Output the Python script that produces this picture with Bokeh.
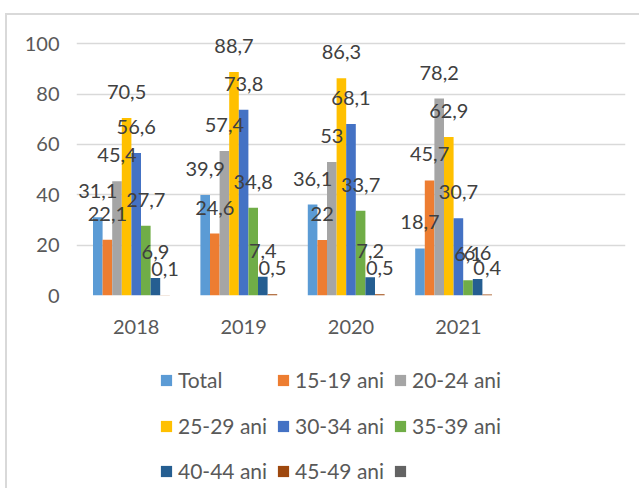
from bokeh.plotting import figure
from bokeh.layouts import column
from bokeh.models import ColumnDataSource, FactorRange, Legend, LegendItem, Range1d, FixedTicker, LabelSet
from bokeh.transform import dodge
from bokeh.core.properties import value
from bokeh.embed import file_html
from bokeh.resources import INLINE

# ---- data ----
years = ["2018", "2019", "2020", "2021"]
categories = years + [" "]          # empty 5th category slot as in the original
total = [31.1, 39.9, 36.1, 18.7]
a15_19 = [22.1, 24.6, 22.0, 45.7]
a20_24 = [45.4, 57.4, 53.0, 78.2]
a25_29 = [70.5, 88.7, 86.3, 62.9]
a30_34 = [56.6, 73.8, 68.1, 30.7]
a35_39 = [27.7, 34.8, 33.7, 6.1]
a40_44 = [6.9, 7.4, 7.2, 6.6]
a45_49 = [0.1, 0.5, 0.5, 0.4]
blank = []                           # unnamed empty series
series_names = ["Total", "15-19 ani", "20-24 ani", "25-29 ani", "30-34 ani",
                "35-39 ani", "40-44 ani", "45-49 ani", " "]
series_values = [total, a15_19, a20_24, a25_29, a30_34, a35_39, a40_44, a45_49, blank]
colors = ["#5B9BD5", "#ED7D31", "#A5A5A5", "#FFC000", "#4472C4",
          "#70AD47", "#255E91", "#9E480E", "#636363"]
y_ticks = [0, 20, 40, 60, 80, 100]

FONT = "Lato"
TXT = "#595959"
BORDER = "2px solid #d9d9d9"
NAN = float("nan")

p = figure(x_range=FactorRange(factors=categories, range_padding=0.0559,
                               range_padding_units="absolute"),
           y_range=Range1d(0, 108),
           width=634, height=335, output_backend="svg", toolbar_location=None,
           min_border_left=69, min_border_right=16, min_border_top=8,
           min_border_bottom=55)
p.styles = {"border-top": BORDER, "border-left": BORDER,
            "margin-top": "13px", "margin-left": "5px"}
p.outline_line_color = None

# axes
p.yaxis.ticker = FixedTicker(ticks=y_ticks)
p.ygrid.ticker = FixedTicker(ticks=y_ticks)
p.ygrid.grid_line_color = "#d9d9d9"
p.ygrid.grid_line_width = 1.6
p.xgrid.grid_line_color = None
for ax in (p.xaxis, p.yaxis):
    ax.axis_line_color = None
    ax.major_tick_line_color = None
    ax.minor_tick_line_color = None
    ax.major_label_text_font = FONT
    ax.major_label_text_font_size = "20px"
    ax.major_label_text_color = TXT
p.yaxis.major_label_standoff = 11
p.xaxis.major_label_standoff = 12

n = len(series_names)
w = 0.0894
label_specs = []
for i, (name, vals, col) in enumerate(zip(series_names, series_values, colors)):
    off = (i - (n - 1) / 2) * w
    src = ColumnDataSource(dict(x=years[:len(vals)], top=vals,
                                label=[f"{v:g}".replace(".", ",") for v in vals]))
    p.vbar(x=dodge("x", off, range=p.x_range), top="top", width=w,
           fill_color=col, line_color=None, source=src)
    label_specs.append((off, src))

for off, src in label_specs:
    p.add_layout(LabelSet(x=dodge("x", off, range=p.x_range), y="top", text="label",
                          source=src, text_align="center", text_baseline="alphabetic",
                          y_offset=19, text_font=value(FONT), text_font_size="20px",
                          text_color="#404040"))

# ---- legend panel (separate canvas below the chart) ----
# same series on a canvas whose y-range lies far from the data, so only the
# legend swatches are visible
pl = figure(width=634, height=140, output_backend="svg", toolbar_location=None,
            x_range=FactorRange(factors=categories), y_range=Range1d(1000, 1001),
            min_border_left=0, min_border_right=0, min_border_top=0, min_border_bottom=0)
pl.styles = {"border-left": BORDER, "margin-left": "5px"}
pl.axis.visible = False
pl.grid.visible = False
pl.outline_line_color = None
leg_renderers = []
for vals, c in zip(series_values, colors):
    tops = vals if vals else [NAN] * len(years)
    leg_renderers.append(pl.vbar(x=years[:len(tops)], top=tops, width=0.1,
                                 fill_color=c, line_color=None))

row_y = [96, 50, 5]
for r, ybot in enumerate(row_y):
    items = [LegendItem(label=series_names[k], renderers=[leg_renderers[k]])
             for k in range(3 * r, 3 * r + 3)]
    lg = Legend(items=items, orientation="horizontal", location=(83, ybot),
                glyph_width=14, glyph_height=14, label_standoff=5, spacing=8,
                label_width=90, padding=0, margin=0, border_line_color=None,
                background_fill_alpha=0, label_text_font=FONT,
                label_text_font_size="21px", label_text_color=TXT)
    pl.add_layout(lg, "center")

layout = column(p, pl, spacing=0)
open("out.html", "w").write(file_html(layout, INLINE))
